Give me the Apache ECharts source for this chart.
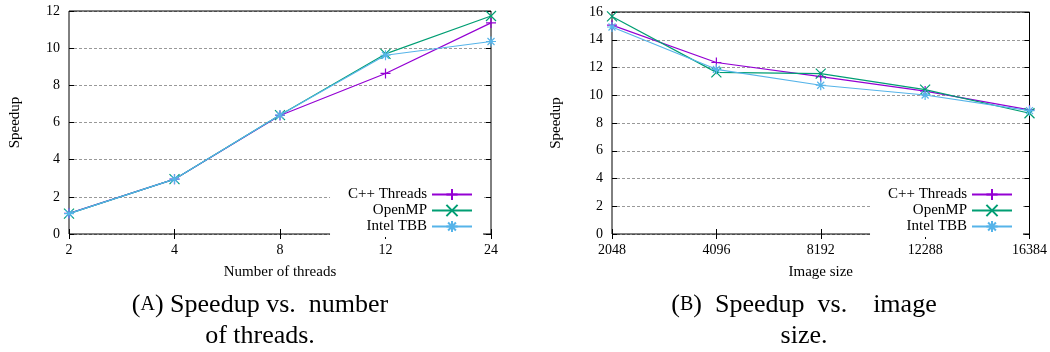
<!DOCTYPE html>
<html>
<head>
<meta charset="utf-8">
<script src="https://cdn.jsdelivr.net/npm/echarts@6/dist/echarts.min.js"></script>
<style>
html,body{margin:0;padding:0;background:#fff;}
#c{width:1050px;height:352px;}
</style>
</head>
<body>
<div id="c"></div>
<script>
// ---- data ----
const seriesNames = ['C++ Threads', 'OpenMP', 'Intel TBB'];
const threadCategories = ['2', '4', '8', '12', '24'];
const threadsCpp = [1.11, 2.95, 6.38, 8.64, 11.36];
const threadsOmp = [1.10, 2.95, 6.40, 9.69, 11.73];
const threadsTbb = [1.10, 2.95, 6.40, 9.62, 10.36];
const sizeCategories = ['2048', '4096', '8192', '12288', '16384'];
const sizeCpp = [15.05, 12.36, 11.34, 10.30, 8.94];
const sizeOmp = [15.68, 11.65, 11.56, 10.40, 8.70];
const sizeTbb = [14.92, 11.87, 10.72, 10.02, 8.89];
const leftTicksY = {min: 0, max: 12, interval: 2};
const rightTicksY = {min: 0, max: 16, interval: 2};
const captionA = ['{sc|(}{scA|A}{sc|) Speedup vs.  number}', 'of threads.'];
const captionB = ['{sc|(}{scA|B}{sc|)  Speedup  vs.    image}', 'size.'];

// ---- styles ----
const colors = ['#9400d3', '#009e73', '#56b4e9'];
const symbols = [
  'path://M0,5L10,5M5,0L5,10',
  'path://M0,0L10,10M10,0L0,10',
  'path://M0,5L10,5M5,0L5,10M1.5,1.5L8.5,8.5M8.5,1.5L1.5,8.5'
];
const serif = '"Liberation Serif", "DejaVu Serif", serif';

const chart = echarts.init(document.getElementById('c'), null, {renderer: 'canvas'});

function xAxes(cats, gridIndex, name) {
  return [{
    type: 'category', gridIndex, data: cats, boundaryGap: false, position: 'bottom',
    name, nameLocation: 'middle', nameGap: 31,
    nameTextStyle: {fontFamily: serif, fontSize: 15, color: '#000'},
    axisLine: {show: false},
    axisTick: {show: true, inside: true, length: 5, lineStyle: {color: '#000'}},
    axisLabel: {fontFamily: serif, fontSize: 14, color: '#000', margin: 9},
    splitLine: {show: false}
  }, {
    type: 'category', gridIndex, data: cats, boundaryGap: false, position: 'top',
    axisLine: {show: false},
    axisTick: {show: true, inside: true, length: 5, lineStyle: {color: '#000'}},
    axisLabel: {show: false}, splitLine: {show: false}
  }];
}
function yAxes(t, gridIndex, gap) {
  return [{
    type: 'value', gridIndex, min: t.min, max: t.max, interval: t.interval, position: 'left',
    name: 'Speedup', nameLocation: 'middle', nameGap: gap, nameRotate: 90,
    nameTextStyle: {fontFamily: serif, fontSize: 15, color: '#000'},
    axisLine: {show: false},
    axisTick: {show: true, inside: true, length: 5, lineStyle: {color: '#000'}},
    axisLabel: {fontFamily: serif, fontSize: 14, color: '#000', margin: 9},
    splitLine: {show: true, lineStyle: {color: '#999', type: [3, 2], width: 1}}
  }, {
    type: 'value', gridIndex, min: t.min, max: t.max, interval: t.interval, position: 'right',
    axisLine: {show: false},
    axisTick: {show: true, inside: true, length: 5, lineStyle: {color: '#000'}},
    axisLabel: {show: false}, splitLine: {show: false}
  }];
}
function mkSeries(name, idx, data, xi, yi) {
  return {
    type: 'line', name, data, xAxisIndex: xi, yAxisIndex: yi,
    symbol: symbols[idx], symbolSize: 10, showSymbol: true,
    lineStyle: {color: colors[idx], width: 1.2},
    itemStyle: {color: colors[idx], borderColor: colors[idx], borderWidth: 1.2},
    emphasis: {disabled: true}, animation: false, z: 3 + idx
  };
}
function legend(right, top) {
  return {
    data: seriesNames, orient: 'vertical', align: 'right', right, top,
    itemWidth: 40, itemHeight: 14, itemGap: 1,
    backgroundColor: '#fff', padding: [3, 10, 3, 18],
    textStyle: {fontFamily: serif, fontSize: 15, color: '#000'},
    selectedMode: false, z: 10
  };
}
function caption(lines, cx) {
  const rich = {
    sc: {fontFamily: serif, fontSize: 26, color: '#000'},
    scA: {fontFamily: serif, fontSize: 20, color: '#000'}
  };
  return [
    {type: 'text', style: {text: lines[0], x: cx, y: 305, align: 'center', verticalAlign: 'middle', font: '26px ' + serif, fill: '#000', rich}},
    {type: 'text', style: {text: lines[1], x: cx, y: 336, align: 'center', verticalAlign: 'middle', font: '26px ' + serif, fill: '#000'}}
  ];
}

const option = {
  animation: false,
  backgroundColor: '#fff',
  grid: [
    {left: 69, right: 559, top: 11, bottom: 118, show: true, borderColor: '#000', borderWidth: 1, backgroundColor: 'transparent', z: 2},
    {left: 612, right: 20, top: 12, bottom: 118, show: true, borderColor: '#000', borderWidth: 1, backgroundColor: 'transparent', z: 2}
  ],
  xAxis: [...xAxes(threadCategories, 0, 'Number of threads'), ...xAxes(sizeCategories, 1, 'Image size')],
  yAxis: [...yAxes(leftTicksY, 0, 46), ...yAxes(rightTicksY, 1, 48)],
  legend: [legend(567, 184), legend(27, 184)],
  series: [
    mkSeries(seriesNames[0], 0, threadsCpp, 0, 0),
    mkSeries(seriesNames[1], 1, threadsOmp, 0, 0),
    mkSeries(seriesNames[2], 2, threadsTbb, 0, 0),
    mkSeries(seriesNames[0], 0, sizeCpp, 2, 2),
    mkSeries(seriesNames[1], 1, sizeOmp, 2, 2),
    mkSeries(seriesNames[2], 2, sizeTbb, 2, 2)
  ],
  graphic: [...caption(captionA, 260), ...caption(captionB, 804)]
};
chart.setOption(option);
</script>
</body>
</html>
